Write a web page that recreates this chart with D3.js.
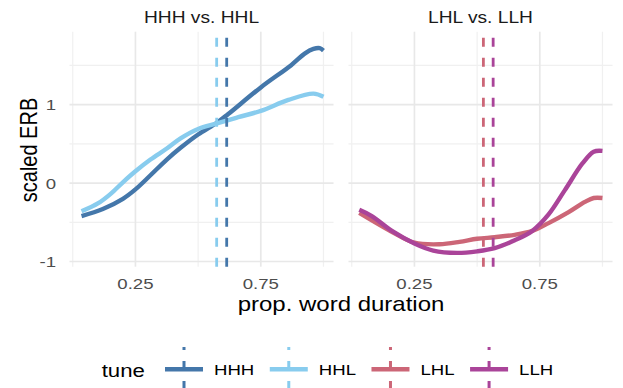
<!DOCTYPE html>
<html>
<head>
<meta charset="utf-8">
<script src="https://cdn.jsdelivr.net/npm/d3@7"></script>
<style>
  body { margin: 0; background: #fff; }
  svg { font-family: "Liberation Sans", Arial, sans-serif; }
</style>
</head>
<body>
<div id="chart"></div>
<script>
// data
var tunes = ['HHH', 'HHL', 'LHL', 'LLH'];
var panels = ['HHH vs. HHL', 'LHL vs. LLH'];
var panelTunes = [['HHH', 'HHL'], ['LHL', 'LLH']];
var xTicks = [0.25, 0.75];
var xMinor = [0, 0.5, 1];
var yTicks = [-1, 0, 1];
var yMinor = [-0.5, 0.5, 1.5];

var hhhX = [0.035, 0.12, 0.2, 0.25, 0.31, 0.375, 0.43, 0.5, 0.575, 0.62, 0.75, 0.87, 0.925, 0.96, 0.985, 1.0];
var hhhY = [-0.42, -0.33, -0.2, -0.08, 0.1, 0.3, 0.45, 0.62, 0.77, 0.88, 1.22, 1.5, 1.65, 1.71, 1.72, 1.69];
var hhlX = [0.035, 0.1, 0.15, 0.2, 0.25, 0.31, 0.375, 0.43, 0.5, 0.575, 0.66, 0.75, 0.86, 0.96, 1.0];
var hhlY = [-0.36, -0.26, -0.14, 0.01, 0.15, 0.3, 0.44, 0.57, 0.69, 0.76, 0.84, 0.92, 1.06, 1.14, 1.1];
var lhlX = [0.03, 0.165, 0.25, 0.35, 0.43, 0.5, 0.57, 0.65, 0.72, 0.785, 0.865, 0.93, 0.965, 1.0];
var lhlY = [-0.38, -0.63, -0.76, -0.78, -0.75, -0.71, -0.69, -0.66, -0.61, -0.51, -0.37, -0.24, -0.19, -0.19];
var llhX = [0.03, 0.08, 0.165, 0.25, 0.325, 0.42, 0.5, 0.57, 0.65, 0.72, 0.785, 0.85, 0.92, 0.965, 1.0];
var llhY = [-0.34, -0.42, -0.62, -0.77, -0.86, -0.89, -0.87, -0.83, -0.73, -0.61, -0.4, -0.09, 0.25, 0.4, 0.41];

// dashed reference lines (mean position per tune)
var meanX = { HHH: 0.614, HHL: 0.574, LHL: 0.525, LLH: 0.564 };

var colors = { HHH: '#4477AA', HHL: '#88CCEE', LHL: '#CC6677', LLH: '#AA4499' };
var series = {
  HHH: d3.zip(hhhX, hhhY),
  HHL: d3.zip(hhlX, hhlY),
  LHL: d3.zip(lhlX, lhlY),
  LLH: d3.zip(llhX, llhY)
};

var W = 623, H = 388, sx = 1.2;
var panelLeft = [69.5, 348.5], panelW = 264;
var panelTop = 31.7, panelBottom = 266.7;

var svg = d3.select('#chart').append('svg')
  .attr('width', W).attr('height', H);

var y = d3.scaleLinear().domain([-1.066, 1.93]).range([panelBottom, panelTop]);

function label(g, txt, x, yy, size, anchor, color) {
  return g.append('text')
    .attr('transform', 'translate(' + x + ',' + yy + ') scale(' + sx + ',1)')
    .attr('text-anchor', anchor)
    .attr('font-size', size)
    .attr('fill', color)
    .text(txt);
}

panels.forEach(function (title, i) {
  var x = d3.scaleLinear().domain([-0.013, 1.04]).range([panelLeft[i], panelLeft[i] + panelW]);
  var g = svg.append('g');

  // grid
  g.selectAll('.ymin').data(yMinor).enter().append('line')
    .attr('x1', x.range()[0]).attr('x2', x.range()[1])
    .attr('y1', y).attr('y2', y)
    .attr('stroke', '#f0f0f0').attr('stroke-width', 1.2);
  g.selectAll('.xmin').data(xMinor).enter().append('line')
    .attr('x1', x).attr('x2', x)
    .attr('y1', panelTop).attr('y2', panelBottom)
    .attr('stroke', '#f0f0f0').attr('stroke-width', 1.2);
  g.selectAll('.ymaj').data(yTicks).enter().append('line')
    .attr('x1', x.range()[0]).attr('x2', x.range()[1])
    .attr('y1', y).attr('y2', y)
    .attr('stroke', '#e8e8e8').attr('stroke-width', 1.7);
  g.selectAll('.xmaj').data(xTicks).enter().append('line')
    .attr('x1', x).attr('x2', x)
    .attr('y1', panelTop).attr('y2', panelBottom)
    .attr('stroke', '#e8e8e8').attr('stroke-width', 1.7);

  // tick labels
  xTicks.forEach(function (t) {
    label(g, d3.format('.2f')(t), x(t), panelBottom + 22.6, 15.5, 'middle', '#4d4d4d');
  });
  if (i === 0) {
    yTicks.forEach(function (t) {
      label(g, String(t), panelLeft[0] - 13.5, y(t) + 5.5, 15.5, 'end', '#4d4d4d');
    });
  }

  // strip title
  label(g, title, x.range()[0] + panelW / 2, 23, 16, 'middle', '#1a1a1a');

  var line = d3.line()
    .x(function (d) { return x(d[0]); })
    .y(function (d) { return y(d[1]); })
    .curve(d3.curveCatmullRom.alpha(0.5));

  panelTunes[i].forEach(function (t) {
    g.append('path')
      .datum(series[t])
      .attr('d', line)
      .attr('fill', 'none')
      .attr('stroke', colors[t])
      .attr('stroke-width', 4.4)
      .attr('stroke-linejoin', 'round');
  });

  panelTunes[i].forEach(function (t) {
    g.append('line')
      .attr('x1', x(meanX[t])).attr('x2', x(meanX[t]))
      .attr('y1', panelBottom).attr('y2', panelTop)
      .attr('stroke', colors[t])
      .attr('stroke-width', 2.8)
      .attr('stroke-dasharray', '9,11');
  });
});

// axis titles
label(svg, 'prop. word duration', 341, 311, 20, 'middle', '#000');
svg.append('text')
  .attr('transform', 'translate(37,150) scale(' + sx + ',1) rotate(-90)')
  .attr('text-anchor', 'middle')
  .attr('font-size', 20)
  .attr('fill', '#000')
  .text('scaled ERB');

// legend
var lg = svg.append('g');
label(lg, 'tune', 101.7, 376.5, 18.5, 'start', '#000');
var kx = 165;
tunes.forEach(function (t) {
  var cx = kx + 19;
  lg.append('line')
    .attr('x1', cx).attr('x2', cx)
    .attr('y1', 390).attr('y2', 347)
    .attr('stroke', colors[t])
    .attr('stroke-width', 3)
    .attr('stroke-dasharray', '9,11');
  lg.append('line')
    .attr('x1', kx).attr('x2', kx + 38)
    .attr('y1', 369.3).attr('y2', 369.3)
    .attr('stroke', colors[t])
    .attr('stroke-width', 4.5);
  var txt = label(lg, t, kx + 49, 375, 15.5, 'start', '#000');
  kx = kx + 49 + txt.node().getComputedTextLength() * sx + 15.5;
});
</script>
</body>
</html>
